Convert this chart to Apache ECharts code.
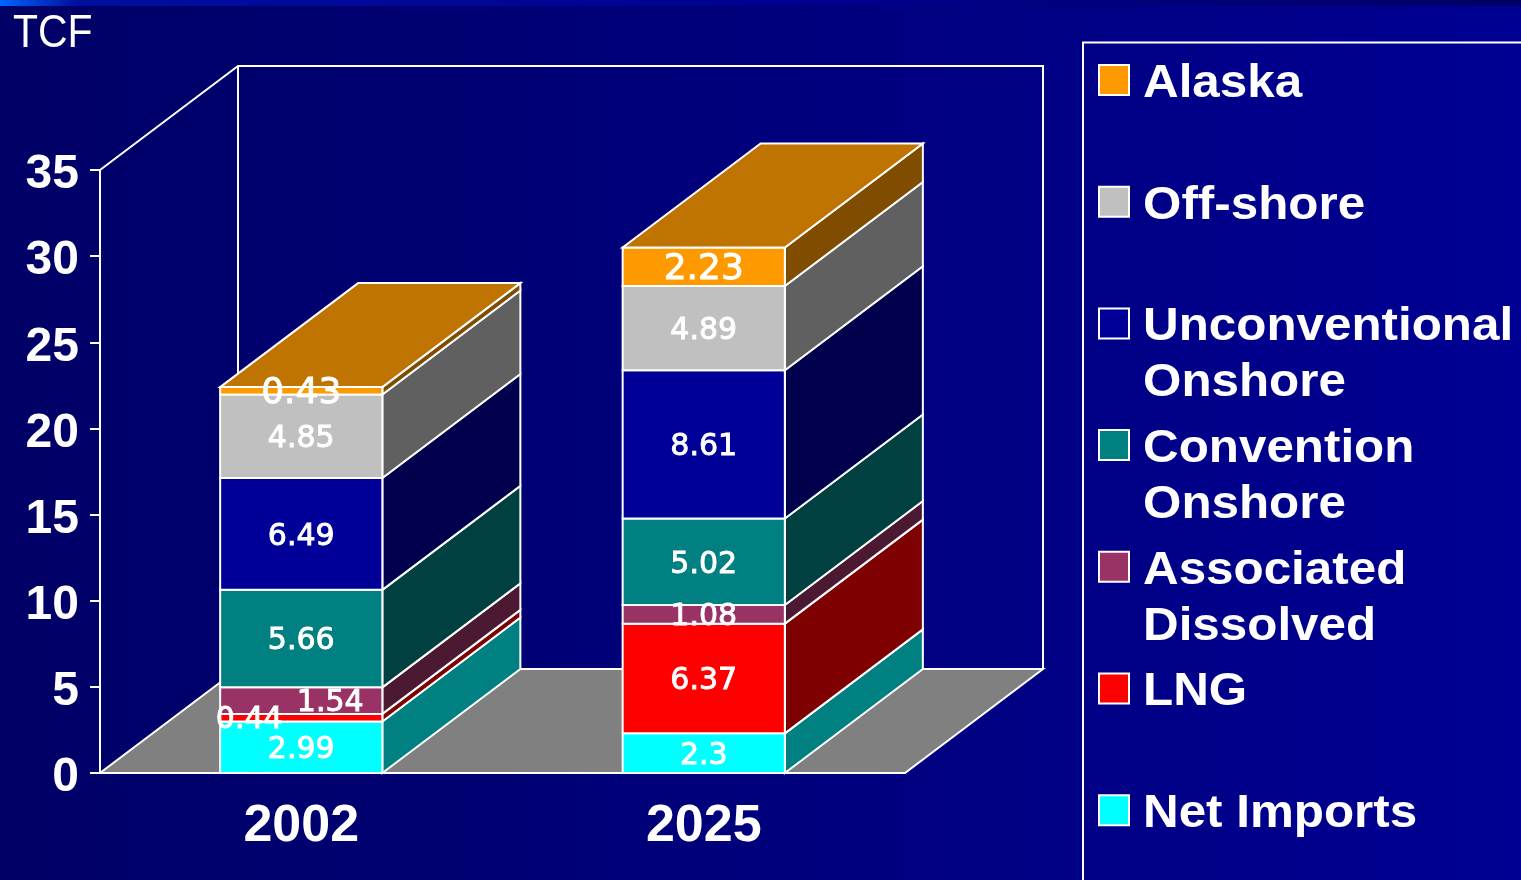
<!DOCTYPE html>
<html>
<head>
<meta charset="utf-8">
<title>TCF supply by source</title>
<style>html,body{margin:0;padding:0;background:#000066;overflow:hidden}#chart{width:1521px;height:880px}</style>
<script src="https://cdn.jsdelivr.net/npm/echarts@6/dist/echarts.min.js"></script>
</head>
<body>
<div id="chart"></div>
<script>
// Supply by source, bottom of the stack first
const years = ['2002', '2025'];
const netImports = [2.99, 2.3];
const lng = [0.44, 6.37];
const associatedDissolved = [1.54, 1.08];
const conventionalOnshore = [5.66, 5.02];
const unconventionalOnshore = [6.49, 8.61];
const offShore = [4.85, 4.89];
const alaska = [0.43, 2.23];
const yTicks = { min: 0, max: 35, interval: 5 };

// Legend text runs top to bottom, the reverse of the stack
const legendNames = ['Alaska', 'Off-shore', 'Unconventional\nOnshore', 'Convention\nOnshore',
  'Associated\nDissolved', 'LNG', 'Net Imports'];

const stackValues = [netImports, lng, associatedDissolved, conventionalOnshore,
  unconventionalOnshore, offShore, alaska];
const faceColors = ['#00FFFF', '#FF0000', '#993366', '#008080', '#000099', '#C0C0C0', '#FF9900'];
const sideColors = ['#008080', '#7F0000', '#4C1933', '#004040', '#00004C', '#606060', '#7F4C00'];
const topColor = '#BF7300';

// Depth of the oblique projection, in pixels
const DX = 138, DY = -104;
const BAR_RATIO = 0.403;
const LINE = { stroke: '#fff', lineWidth: 2, lineJoin: 'miter' };
const LABEL_FONT = '30px "DejaVu Sans"';
const TOP_LABEL_FONT = '36px "DejaVu Sans"';

// Labels that sit beside the centre of a thin segment: [series, year] -> horizontal shift
const labelShift = { '1,0': -52, '2,0': 29 };

function stackRows(level) {
  return years.map((y, i) => {
    let base = 0;
    for (let k = 0; k < level; k++) base += stackValues[k][i];
    return [i, base, base + stackValues[level][i], stackValues[level][i], level];
  });
}

function poly(points, fill) {
  return { type: 'polygon', shape: { points }, style: Object.assign({ fill }, LINE) };
}

function renderBlock(params, api) {
  const cat = api.value(0), from = api.value(1), to = api.value(2), level = api.value(4);
  const half = api.size([1, 0])[0] * BAR_RATIO / 2;
  const p0 = api.coord([cat, from]), p1 = api.coord([cat, to]);
  const l = p0[0] - half, r = p0[0] + half;
  const kids = [
    poly([[r, p0[1]], [r + DX, p0[1] + DY], [r + DX, p1[1] + DY], [r, p1[1]]], sideColors[level]),
    poly([[l, p0[1]], [r, p0[1]], [r, p1[1]], [l, p1[1]]], faceColors[level])
  ];
  if (level === stackValues.length - 1) {
    kids.push(poly([[l, p1[1]], [r, p1[1]], [r + DX, p1[1] + DY], [l + DX, p1[1] + DY]], topColor));
  }
  return { type: 'group', children: kids };
}

function renderLabel(params, api) {
  const cat = api.value(0), from = api.value(1), to = api.value(2), level = api.value(4);
  const c = api.coord([cat, (from + to) / 2]);
  return {
    type: 'text',
    style: {
      x: c[0] + (labelShift[level + ',' + cat] || 0),
      y: c[1] + 3,
      text: String(api.value(3)),
      fill: '#fff',
      stroke: '#fff',
      lineWidth: 0.9,
      font: level === stackValues.length - 1 ? TOP_LABEL_FONT : LABEL_FONT,
      align: 'center',
      verticalAlign: 'middle'
    }
  };
}

// Floor and back walls of the plot box
function renderBox(params) {
  const b = params.coordSys;
  const x0 = b.x, x1 = b.x + b.width, y0 = b.y, y1 = b.y + b.height;
  return {
    type: 'group',
    children: [
      poly([[x0, y1], [x1, y1], [x1 + DX, y1 + DY], [x0 + DX, y1 + DY]], '#808080'),
      { type: 'polyline', shape: { points: [[x0, y0], [x0 + DX, y0 + DY], [x1 + DX, y0 + DY], [x1 + DX, y1 + DY]] },
        style: Object.assign({ fill: 'none' }, LINE) },
      { type: 'line', shape: { x1: x0 + DX, y1: y0 + DY, x2: x0 + DX, y2: y1 + DY }, style: LINE }
    ]
  };
}

const series = [{
  type: 'custom', name: 'box', renderItem: renderBox, data: [[0, 0]], z: 1, silent: true, clip: false
}];
stackValues.forEach((vals, level) => {
  series.push({
    type: 'custom', name: legendNames[legendNames.length - 1 - level], renderItem: renderBlock,
    data: stackRows(level), encode: { x: 0, y: 2 }, z: 2 + level, silent: true, clip: false
  });
});
stackValues.forEach((vals, level) => {
  series.push({
    type: 'custom', name: 'labels' + level, renderItem: renderLabel,
    data: stackRows(level), encode: { x: 0, y: 2 }, z: 20, silent: true, clip: false
  });
});

// Legend panel, one row for each source
const legendRowH = 121.7, legendTop = 81;
const legendGraphics = [
  { type: 'polyline', shape: { points: [[1083, 880], [1083, 42.5], [1521, 42.5]] },
    style: { fill: 'none', stroke: '#fff', lineWidth: 2 } }
];
legendNames.forEach((name, i) => {
  const cy = legendTop + i * legendRowH;
  legendGraphics.push({
    type: 'rect', shape: { x: 1099, y: cy - 16, width: 30, height: 30 },
    style: { fill: faceColors[faceColors.length - 1 - i], stroke: '#fff', lineWidth: 2 }
  });
  legendGraphics.push({
    type: 'text', x: 1143, y: cy - 25, scaleX: 1.05,
    style: { text: name, fill: '#fff', font: 'bold 47px "Liberation Sans"', lineHeight: 56, align: 'left', verticalAlign: 'top' }
  });
});

const tickFont = { color: '#fff', fontFamily: 'Liberation Sans', fontWeight: 'bold', fontSize: 48 };

const chart = echarts.init(document.getElementById('chart'), null, { renderer: 'canvas' });
chart.setOption({
  animation: false,
  backgroundColor: {
    type: 'linear', x: 0, y: 0, x2: 1, y2: 0,
    colorStops: [{ offset: 0, color: '#000066' }, { offset: 1, color: '#000092' }]
  },
  grid: { left: 100, top: 170, width: 805, height: 603, containLabel: false },
  xAxis: {
    type: 'category', data: years, z: 15,
    axisLine: { lineStyle: { color: '#fff', width: 2 } },
    axisTick: { length: 10, lineStyle: { color: '#fff', width: 2 }, alignWithLabel: false },
    axisLabel: { color: '#fff', fontFamily: 'Liberation Sans', fontWeight: 'bold', fontSize: 52, margin: 28 }
  },
  yAxis: {
    type: 'value', min: yTicks.min, max: yTicks.max, interval: yTicks.interval, z: 15,
    splitLine: { show: false },
    axisLine: { show: true, lineStyle: { color: '#fff', width: 2 } },
    axisTick: { show: true, length: 10, lineStyle: { color: '#fff', width: 2 } },
    axisLabel: {
      margin: 21,
      formatter: '{tick|{value}}',
      rich: { tick: Object.assign({ padding: [10, 0, 0, 0] }, tickFont) }
    }
  },
  graphic: [
    { type: 'rect', shape: { x: 0, y: 0, width: 1521, height: 6 }, silent: true,
      style: { fill: { type: 'linear', x: 0, y: 0, x2: 1, y2: 0,
        colorStops: [{ offset: 0, color: '#0066ff' }, { offset: 0.05, color: '#000f9f' }, { offset: 0.5, color: '#000090' }, { offset: 1, color: '#000066' }] } } },
    { type: 'text', x: 13, y: 11, scaleX: 0.89, style: { text: 'TCF', fill: '#fff', font: '46px "Liberation Sans"', align: 'left', verticalAlign: 'top' } }
  ].concat(legendGraphics),
  series
});
</script>
</body>
</html>
